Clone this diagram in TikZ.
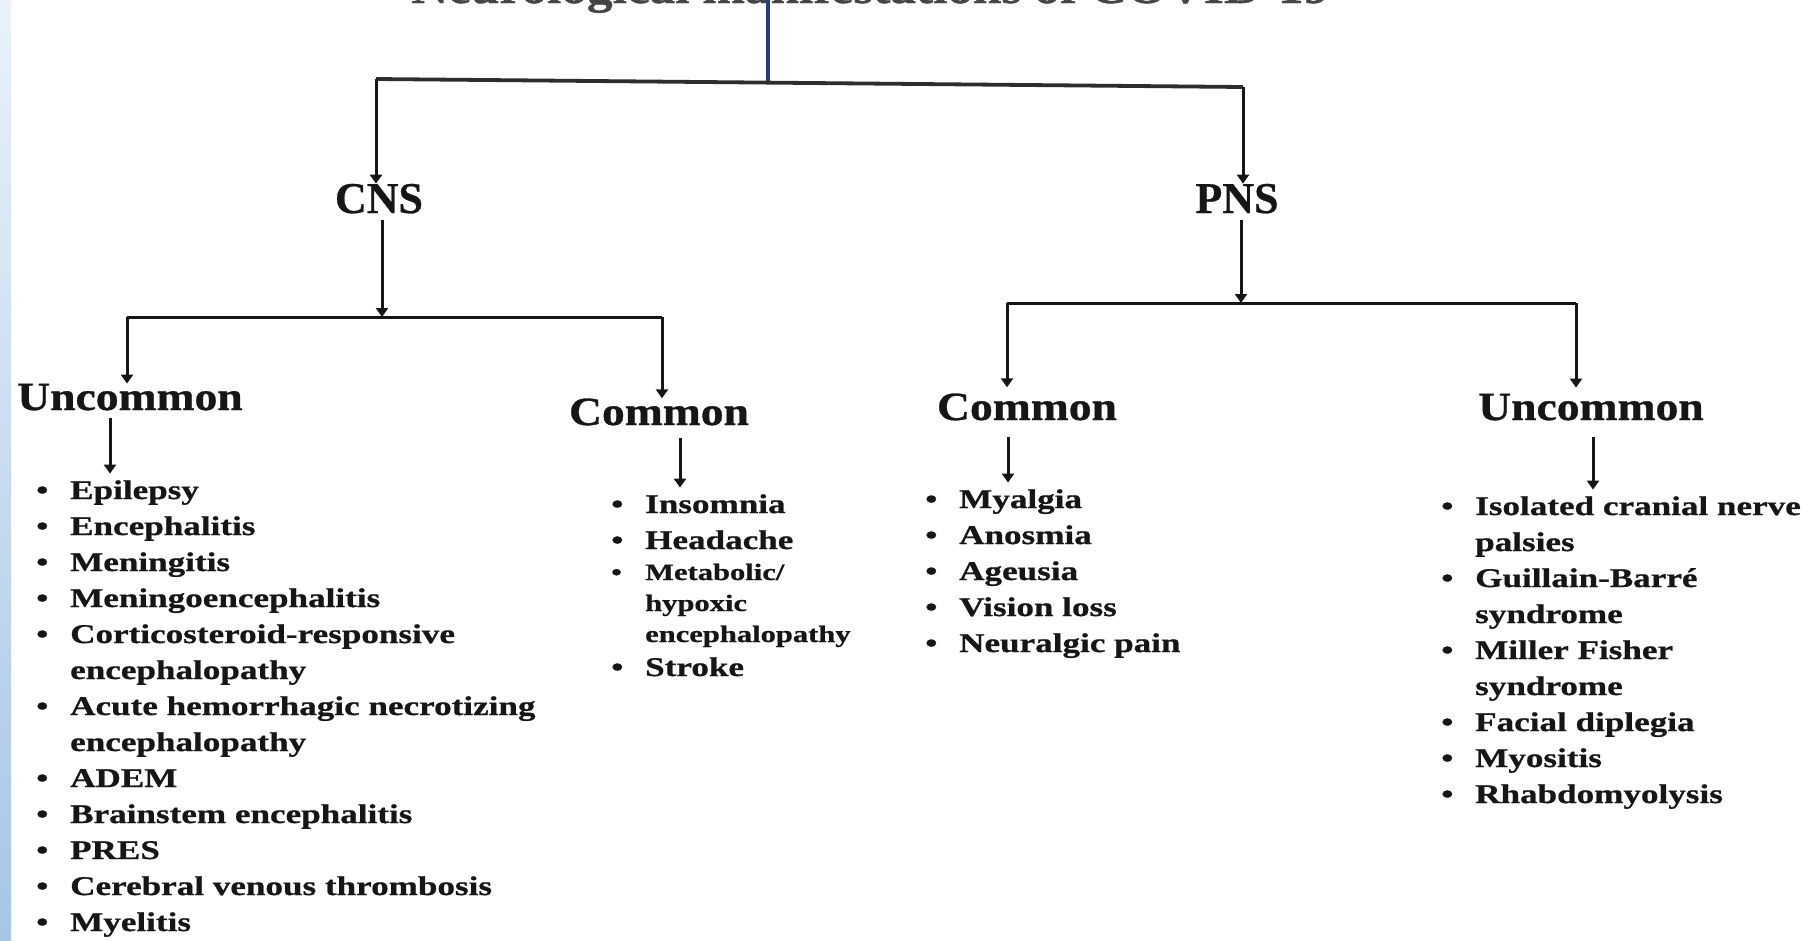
\documentclass[tikz,border=0pt]{standalone}
\usepackage{fontspec}
\setmainfont{Liberation Serif}[FakeBold=0.6]
\newfontfamily\headfont[FakeStretch=1.14,FakeBold=0.8]{Liberation Serif}
\newfontfamily\listfont[FakeStretch=1.3,FakeBold=0.8]{Liberation Serif}
\usetikzlibrary{arrows.meta}
\definecolor{ink}{HTML}{161616}
\definecolor{navy}{RGB}{40,60,120}
\definecolor{stripTop}{HTML}{EAF1FA}
\definecolor{stripBot}{HTML}{A6C6E6}
\newcommand\itm[1]{\makebox[34pt][l]{\textbullet}#1}
\newcommand\cnt[1]{\hspace*{34pt}#1}
\newcommand\smallrow{\fontsize{23.5}{36}\selectfont}
\tikzset{
  every node/.style={inner sep=0pt, text=ink},
  ttl/.style={font=\headfont\bfseries\fontsize{45}{50}\selectfont, text=ink!80},
  sysnode/.style={font=\bfseries\fontsize{44}{50}\selectfont, anchor=base},
  headnode/.style={font=\headfont\bfseries\fontsize{40}{46}\selectfont, anchor=base},
  listnode/.style={font=\listfont\bfseries\fontsize{27}{36}\selectfont, anchor=base west},
  conn/.style={draw=ink, line width=3pt},
  arr/.style={conn, -{Triangle[length=9pt,width=12pt]}},
  topline/.style={draw=ink!90, line width=3.8pt},
  blueline/.style={draw=navy, line width=3.2pt}
}
\begin{document}
\begin{tikzpicture}[x=1pt,y=-1pt]
\useasboundingbox (0,0) rectangle (1817,940);
\clip (0,0) rectangle (1817,940);
\fill[white] (0,0) rectangle (1817,940);
\shade[top color=stripTop,bottom color=stripBot] (0,0) rectangle (11,940);

% title (cut off at the top edge)
\node[ttl, anchor=base west] (title) at (411,3) {Neurological manifestations of COVID-19};

% level 1
\node[sysnode] (cns) at (379,213) {CNS};
\node[sysnode] (pns) at (1237,213) {PNS};

% level 2 headings
\node[headnode] (cu) at (130,410) {Uncommon};
\node[headnode] (cc) at (659,425) {Common};
\node[headnode] (pc) at (1027,420) {Common};
\node[headnode] (pu) at (1591,420) {Uncommon};

% lists
\node[listnode] (cul) at (36,499) {\begin{tabular}[t]{@{}l@{}}
\itm{Epilepsy}\\
\itm{Encephalitis}\\
\itm{Meningitis}\\
\itm{Meningoencephalitis}\\
\itm{Corticosteroid-responsive}\\
\cnt{encephalopathy}\\
\itm{Acute hemorrhagic necrotizing}\\
\cnt{encephalopathy}\\
\itm{ADEM}\\
\itm{Brainstem encephalitis}\\
\itm{PRES}\\
\itm{Cerebral venous thrombosis}\\
\itm{Myelitis}
\end{tabular}};

\node[listnode] (ccl) at (611,513) {\begin{tabular}[t]{@{}l@{}}
\itm{Insomnia}\\
\itm{Headache}\\[-5pt]
{\smallrow\itm{Metabolic/}}\\[-5pt]
{\smallrow\cnt{hypoxic}}\\[-5pt]
{\smallrow\cnt{encephalopathy}}\\[-2pt]
\itm{Stroke}
\end{tabular}};

\node[listnode] (pcl) at (925,508) {\begin{tabular}[t]{@{}l@{}}
\itm{Myalgia}\\
\itm{Anosmia}\\
\itm{Ageusia}\\
\itm{Vision loss}\\
\itm{Neuralgic pain}
\end{tabular}};

\node[listnode] (pul) at (1441,515) {\begin{tabular}[t]{@{}l@{}}
\itm{Isolated cranial nerve}\\
\cnt{palsies}\\
\itm{Guillain-Barré}\\
\cnt{syndrome}\\
\itm{Miller Fisher}\\
\cnt{syndrome}\\
\itm{Facial diplegia}\\
\itm{Myositis}\\
\itm{Rhabdomyolysis}
\end{tabular}};

% junction points
\coordinate (jt) at (768,81);
\coordinate (jtl) at (376,79);
\coordinate (jtr) at (1243,87);
\coordinate (jc) at (382,317);
\coordinate (jcl) at (127,317);
\coordinate (jcr) at (662,317);
\coordinate (jp) at (1241,303);
\coordinate (jpl) at (1007,303);
\coordinate (jpr) at (1576,303);
\coordinate (al) at (110,0);
\coordinate (ac) at (680,0);
\coordinate (ap) at (1008,0);
\coordinate (au) at (1593,0);

% top connectors
\draw[blueline] (title.north -| jt) -- (jt);
\draw[topline] (jtl) -- (jtr);
\draw[arr] (jtl) -- (jtl |- cns.north);
\draw[arr] (jtr) -- (jtr |- pns.north);

% CNS branch
\draw[arr, shorten <=6pt] (cns.south -| jc) -- (jc);
\draw[conn] (jcl) -- (jcr);
\draw[arr] (jcl) -- (jcl |- cu.north);
\draw[arr] (jcr) -- (jcr |- cc.north);

% PNS branch
\draw[arr, shorten <=6pt] (pns.south -| jp) -- (jp);
\draw[conn] (jpl) -- (jpr);
\draw[arr] (jpl) -- ([yshift=6pt]jpl |- pc.north);
\draw[arr] (jpr) -- ([yshift=6pt]jpr |- pu.north);

% heading to list arrows
\draw[arr, shorten <=7pt] (cu.south -| al) -- (cul.north -| al);
\draw[arr, shorten <=12pt] (cc.south -| ac) -- (ccl.north -| ac);
\draw[arr, shorten <=16pt] (pc.south -| ap) -- (pcl.north -| ap);
\draw[arr, shorten <=16pt] (pu.south -| au) -- (pul.north -| au);
\end{tikzpicture}
\end{document}
